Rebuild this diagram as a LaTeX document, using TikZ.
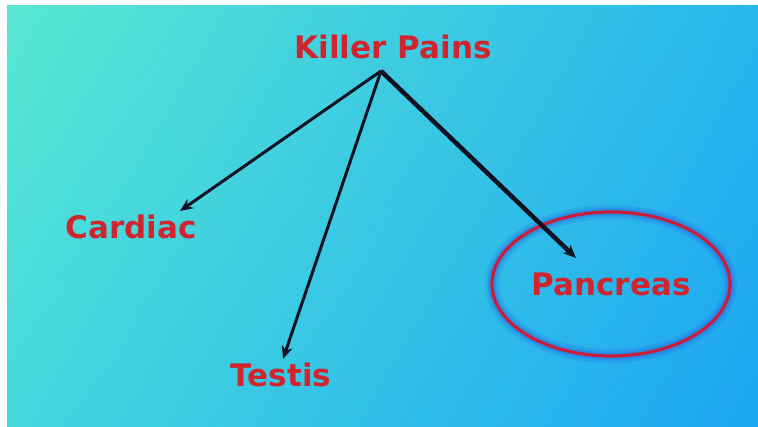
\documentclass[tikz,border=0pt]{standalone}
\usepackage{fontspec}
\setmainfont{DejaVu Sans}
\usetikzlibrary{shapes.geometric,arrows.meta,shadings}
\definecolor{painred}{RGB}{208,36,46}
\definecolor{ringred}{RGB}{200,30,60}
\definecolor{glowblue}{RGB}{40,90,225}
\definecolor{bgtl}{RGB}{88,232,210}
\definecolor{bgtr}{RGB}{40,182,236}
\definecolor{bgbl}{RGB}{68,216,222}
\definecolor{bgbr}{RGB}{28,165,242}
\definecolor{arrowink}{RGB}{18,18,35}
\tikzset{
  word/.style={text=painred, font=\bfseries\fontsize{31}{31}\selectfont, inner sep=0pt},
  link/.style={draw=arrowink, line width=3pt, -{Stealth[length=13pt,width=11pt]}},
}
\begin{document}
\begin{tikzpicture}[x=1pt,y=-1pt]
\useasboundingbox (0,0) rectangle (758,427);
\shade[upper left=bgtl, upper right=bgtr, lower left=bgbl, lower right=bgbr] (7,6) rectangle (758,427);
\node[word] (killer) at (393,47){Killer Pains};
\node[word] (cardiac) at (131,227){Cardiac};
\node[word] (testis) at (281,375){Testis};
\node[word, ellipse, minimum width=238pt, minimum height=144pt, draw=ringred, line width=3.2pt,
  preaction={draw=glowblue, line width=14pt, draw opacity=.18},
  preaction={draw=glowblue, line width=8pt, draw opacity=.3}] (pancreas) at (611,284){Pancreas};
\coordinate (apex) at (381,71);
\coordinate (tipc) at (180,211);
\coordinate (tipt) at (283,359);
\coordinate (tipp) at (576,258);
\draw[link](apex) -- (tipc);
\draw[link](apex) -- (tipt);
\draw[link, line width=4.5pt](apex) -- (tipp);
\end{tikzpicture}
\end{document}
